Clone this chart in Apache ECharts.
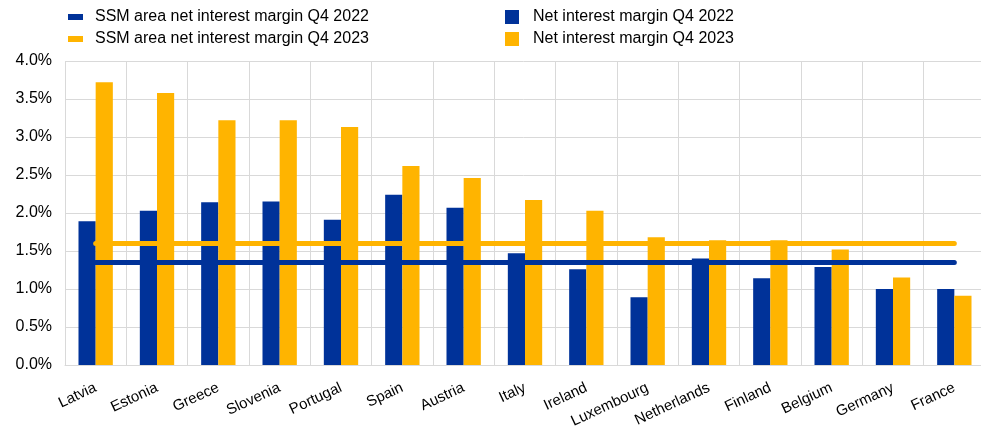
<!DOCTYPE html>
<html>
<head>
<meta charset="utf-8">
<script src="https://cdn.jsdelivr.net/npm/echarts@6/dist/echarts.min.js"></script>
<style>html,body{margin:0;padding:0;background:#fff}#c{width:981px;height:426px}</style>
</head>
<body>
<div id="c"></div>
<script>
const categories = ['Latvia','Estonia','Greece','Slovenia','Portugal','Spain','Austria','Italy','Ireland','Luxembourg','Netherlands','Finland','Belgium','Germany','France'];
const nim2022 = [1.89, 2.03, 2.14, 2.15, 1.91, 2.24, 2.07, 1.47, 1.26, 0.89, 1.40, 1.14, 1.29, 1.00, 1.00];
const nim2023 = [3.72, 3.58, 3.22, 3.22, 3.13, 2.62, 2.46, 2.17, 2.03, 1.68, 1.64, 1.64, 1.52, 1.15, 0.91];
const ssm2022 = [1.35, 1.35, 1.35, 1.35, 1.35, 1.35, 1.35, 1.35, 1.35, 1.35, 1.35, 1.35, 1.35, 1.35, 1.35];
const ssm2023 = [1.60, 1.60, 1.60, 1.60, 1.60, 1.60, 1.60, 1.60, 1.60, 1.60, 1.60, 1.60, 1.60, 1.60, 1.60];
const yTicks = [0, 0.5, 1, 1.5, 2, 2.5, 3, 3.5, 4];

const BLUE = '#003299', YELLOW = '#FFB400';
const FONT = 'Liberation Sans, Arial, sans-serif';
const chart = echarts.init(document.getElementById('c'), null, {renderer: 'canvas'});
chart.setOption({
  animation: false,
  backgroundColor: '#fff',
  textStyle: {fontFamily: FONT},
  legend: [{
    left: 68, top: 9, padding: 0, orient: 'vertical', itemWidth: 15, itemHeight: 6, itemGap: 6,
    textStyle: {fontSize: 16, color: '#000', fontFamily: FONT, lineHeight: 16, padding: [0,0,0,7]},
    data: [{name: 'SSM area net interest margin Q4 2022', icon: 'rect'}, {name: 'SSM area net interest margin Q4 2023', icon: 'rect'}]
  }, {
    left: 505, top: 9, padding: 0, orient: 'vertical', itemWidth: 14, itemHeight: 14, itemGap: 6,
    textStyle: {fontSize: 16, color: '#000', fontFamily: FONT, lineHeight: 16, padding: [0,0,0,9]},
    data: [{name: 'Net interest margin Q4 2022', icon: 'rect'}, {name: 'Net interest margin Q4 2023', icon: 'rect'}]
  }],
  grid: {left: 65, right: -4, top: 61, bottom: 61, containLabel: false, outerBoundsMode: 'none'},
  xAxis: {
    type: 'category', data: categories, boundaryGap: true,
    axisLine: {show: true, lineStyle: {color: '#d9d9d9', width: 1}},
    axisTick: {show: false},
    splitLine: {show: true, lineStyle: {color: '#d9d9d9', width: 1}},
    axisLabel: {interval: 0, rotate: 25, fontSize: 15, color: '#000', fontFamily: FONT, margin: 22}
  },
  yAxis: {
    type: 'value', min: yTicks[0], max: yTicks[yTicks.length-1], interval: 0.5,
    axisLine: {show: false}, axisTick: {show: false},
    splitLine: {show: true, lineStyle: {color: '#d9d9d9', width: 1}},
    axisLabel: {fontSize: 16, color: '#000', fontFamily: FONT, margin: 13, formatter: v => v.toFixed(1) + '%'}
  },
  series: [
    {name: 'Net interest margin Q4 2022', type: 'bar', data: nim2022, barWidth: '28%', barGap: '0%', itemStyle: {color: BLUE}, z: 2},
    {name: 'Net interest margin Q4 2023', type: 'bar', data: nim2023, barWidth: '28%', barGap: '0%', itemStyle: {color: YELLOW}, z: 2},
    {name: 'SSM area net interest margin Q4 2022', type: 'line', data: ssm2022, symbol: 'none', lineStyle: {color: BLUE, width: 5, cap: 'round'}, itemStyle: {color: BLUE}, z: 4},
    {name: 'SSM area net interest margin Q4 2023', type: 'line', data: ssm2023, symbol: 'none', lineStyle: {color: YELLOW, width: 5, cap: 'round'}, itemStyle: {color: YELLOW}, z: 4}
  ]
});
</script>
</body>
</html>
